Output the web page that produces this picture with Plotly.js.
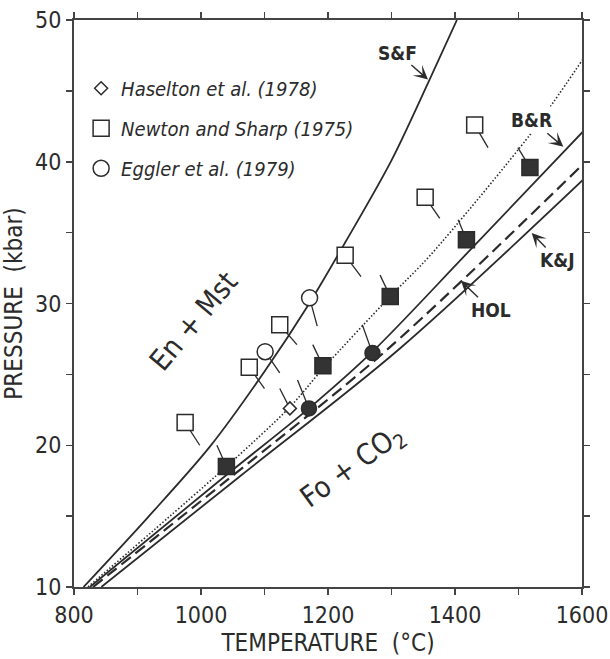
<!DOCTYPE html>
<html>
<head>
<meta charset="utf-8">
<script src="https://cdn.plot.ly/plotly-3.0.1.min.js"></script>
<style>
  html, body { margin: 0; padding: 0; background: #fff; }
  #chart { width: 610px; height: 659px; }
</style>
</head>
<body>
<div id="chart"></div>
<script>
// ---- Reaction curves (temperature °C, pressure kbar) ----
const sfT  = [815, 916, 1014, 1100, 1169, 1227, 1300, 1358, 1403];
const sfP  = [10, 14.9, 19.9, 25.2, 29.9, 34.3, 40.1, 45.6, 50];
const brDotT = [822, 1040, 1140, 1192, 1298, 1361, 1518, 1555, 1601];
const brDotP = [10, 18.5, 22.7, 25.4, 30.5, 33.4, 41.9, 44.2, 47.2];
const brT  = [825, 1040, 1170, 1270, 1418, 1601];
const brP  = [10, 17.9, 22.6, 26.6, 33.5, 42.1];
const holT = [830, 1040, 1292, 1601];
const holP = [10, 17.5, 26.7, 39.8];
const kjT  = [843, 1061, 1310, 1601];
const kjP  = [10, 17.8, 26.7, 38.7];

// ---- Experimental brackets ----
const haT = [1140];            const haP = [22.6];
const haTailT = [1124];        const haTailP = [24.0];

const nsOpenT = [975, 1076, 1124, 1227, 1353, 1431];
const nsOpenP = [21.6, 25.5, 28.5, 33.4, 37.5, 42.6];
const nsOpenTailT = [998, 1100, 1151, 1252, 1376, 1452];
const nsOpenTailP = [20.0, 24.0, 27.1, 31.9, 36.0, 41.0];

const nsFillT = [1040, 1192, 1298, 1418, 1518];
const nsFillP = [18.5, 25.6, 30.5, 34.5, 39.6];
const nsFillTailT = [1025, 1176, 1282, 1405, 1499];
const nsFillTailP = [20.0, 27.1, 32.0, 35.9, 41.0];

const egOpenT = [1101, 1171];  const egOpenP = [26.6, 30.4];
const egOpenTailT = [1124, 1183]; const egOpenTailP = [25.1, 28.4];
const egFillT = [1170, 1270];  const egFillP = [22.6, 26.5];
const egFillTailT = [1152, 1254]; const egFillTailP = [24.6, 28.5];

// ---- Labels ----
const legendNames = ['Haselton et al. (1978)', 'Newton and Sharp (1975)', 'Eggler et al. (1979)'];
const xTickVals = [800, 900, 1000, 1100, 1200, 1300, 1400, 1500, 1600];
const xTickText = ['800', '', '1000', '', '1200', '', '1400', '', '1600'];
const yTickVals = [10, 15, 20, 25, 30, 35, 40, 45, 50];
const yTickText = ['10', '', '20', '', '30', '', '40', '', '50'];

const INK = '#2b2b2b';
const FONT = "'DejaVu Sans Condensed', 'Liberation Sans Narrow', sans-serif";

function tails(t, p, tt, tp) {
  const x = [], y = [];
  for (let i = 0; i < t.length; i++) { x.push(t[i], tt[i], null); y.push(p[i], tp[i], null); }
  return {x, y};
}
const allTails = [
  tails(haT, haP, haTailT, haTailP),
  tails(nsOpenT, nsOpenP, nsOpenTailT, nsOpenTailP),
  tails(nsFillT, nsFillP, nsFillTailT, nsFillTailP),
  tails(egOpenT, egOpenP, egOpenTailT, egOpenTailP),
  tails(egFillT, egFillP, egFillTailT, egFillTailP)
];
const tailX = [].concat(...allTails.map(d => d.x));
const tailY = [].concat(...allTails.map(d => d.y));

const curve = (x, y, dash, w) => ({
  x, y, type: 'scatter', mode: 'lines', showlegend: false, hoverinfo: 'skip',
  line: {color: INK, width: w, dash: dash, shape: 'spline', smoothing: 0.9}
});

const traces = [
  curve(sfT, sfP, 'solid', 1.8),
  curve(brDotT, brDotP, '1.5px,2px', 1.6),
  curve(brT, brP, 'solid', 1.8),
  curve(holT, holP, '12px,6px', 2.2),
  curve(kjT, kjP, 'solid', 1.8),
  {x: tailX, y: tailY, type: 'scatter', mode: 'lines', showlegend: false, hoverinfo: 'skip',
   line: {color: INK, width: 1.3}},
  {x: haT, y: haP, type: 'scatter', mode: 'markers', name: legendNames[0], legendgroup: 'a',
   marker: {symbol: 'diamond', size: 10, color: '#fff', line: {color: INK, width: 1.5}}},
  {x: nsOpenT, y: nsOpenP, type: 'scatter', mode: 'markers', name: legendNames[1], legendgroup: 'b',
   marker: {symbol: 'square', size: 16, color: '#fff', line: {color: INK, width: 1.5}}},
  {x: nsFillT, y: nsFillP, type: 'scatter', mode: 'markers', showlegend: false, legendgroup: 'b',
   marker: {symbol: 'square', size: 16, color: '#333', line: {color: INK, width: 1.5}}},
  {x: egOpenT, y: egOpenP, type: 'scatter', mode: 'markers', name: legendNames[2], legendgroup: 'c',
   marker: {symbol: 'circle', size: 16, color: '#fff', line: {color: INK, width: 1.5}}},
  {x: egFillT, y: egFillP, type: 'scatter', mode: 'markers', showlegend: false, legendgroup: 'c',
   marker: {symbol: 'circle', size: 15, color: '#333', line: {color: INK, width: 1.5}}}
];

const lblFont = {family: FONT, size: 19, color: INK, weight: 'bold'};
const arrowLabel = (text, x, y, ax, ay, extra) => Object.assign({
  text, x, y, ax, ay, xref: 'x', yref: 'y', showarrow: true, arrowhead: 3, arrowsize: 1.7,
  arrowwidth: 1.4, arrowcolor: INK, standoff: 0, font: lblFont
}, extra || {});

const layout = {
  width: 610, height: 659,
  margin: {l: 74, r: 28, t: 20, b: 72},
  paper_bgcolor: '#fff', plot_bgcolor: '#fff',
  font: {family: FONT, color: INK},
  showlegend: true,
  legend: {x: 0.014, y: 0.914, xanchor: 'left', yanchor: 'top', bgcolor: 'rgba(0,0,0,0)',
           font: {family: FONT, size: 20, color: INK, style: 'italic'},
           tracegroupgap: 11, itemclick: false, itemdoubleclick: false},
  xaxis: {range: [800, 1600], tickvals: xTickVals, ticktext: xTickText,
          showgrid: false, zeroline: false, showline: true, mirror: 'ticks',
          linecolor: '#444', linewidth: 2, ticks: 'outside', ticklen: 6, tickwidth: 1.5, tickcolor: '#444',
          tickfont: {family: FONT, size: 23, color: INK},
          title: {text: 'TEMPERATURE  (°C)', font: {family: FONT, size: 24, color: INK}, standoff: 8}},
  yaxis: {range: [10, 50], tickvals: yTickVals, ticktext: yTickText,
          showgrid: false, zeroline: false, showline: true, mirror: 'ticks',
          linecolor: '#444', linewidth: 2, ticks: 'outside', ticklen: 6, tickwidth: 1.5, tickcolor: '#444',
          tickfont: {family: FONT, size: 23, color: INK},
          title: {text: 'PRESSURE  (kbar)', font: {family: FONT, size: 24, color: INK}, standoff: 6}},
  annotations: [
    arrowLabel('S&amp;F', 1357.5, 45.8, -31, -27),
    arrowLabel('B&amp;R', 1570.6, 41.06, -32, -27, {bgcolor: '#fff', borderpad: 2}),
    arrowLabel('K&amp;J', 1520.8, 34.97, 26, 27),
    arrowLabel('HOL', 1409.4, 31.6, 30, 29),
    {text: 'En + Mst', x: 988, y: 28.8, xref: 'x', yref: 'y', showarrow: false, textangle: -50,
     font: {family: FONT, size: 29, color: INK}},
    {text: 'Fo + CO<sub>2</sub>', x: 1239, y: 18.5, xref: 'x', yref: 'y', showarrow: false, textangle: -36,
     font: {family: FONT, size: 29, color: INK}}
  ]
};

Plotly.newPlot('chart', traces, layout, {staticPlot: true, displayModeBar: false});
</script>
</body>
</html>
